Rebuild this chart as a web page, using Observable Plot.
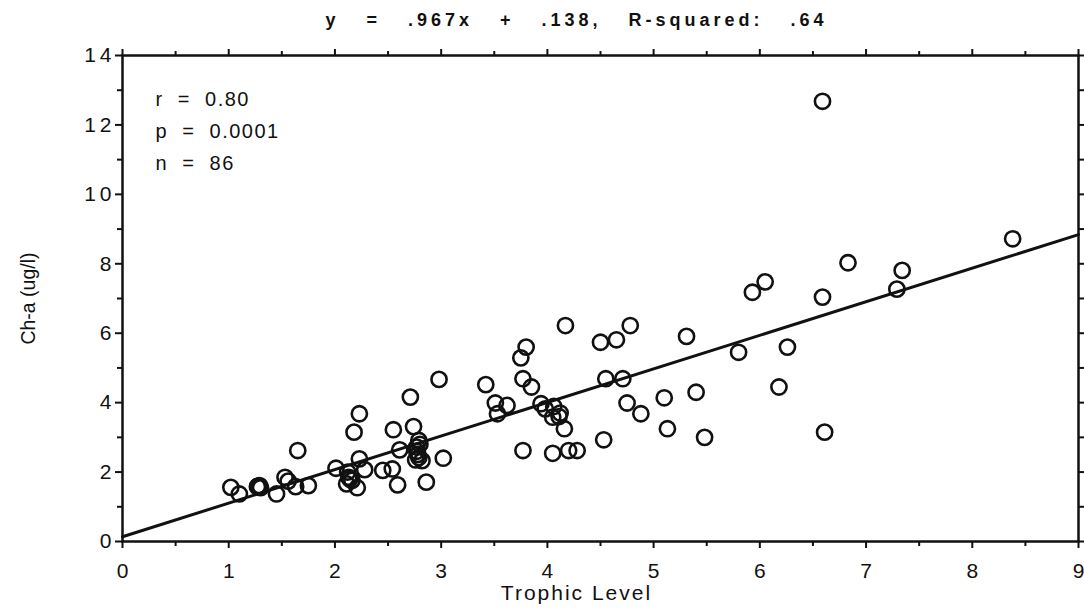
<!DOCTYPE html>
<html>
<head>
<meta charset="utf-8">
<script src="https://cdn.jsdelivr.net/npm/d3@7"></script>
<script src="https://cdn.jsdelivr.net/npm/@observablehq/plot@0.6"></script>
<style>
  html, body { margin: 0; padding: 0; background: #fff; }
  #chart svg { display: block; }
  #chart g[aria-label="y-axis tick label"] text { letter-spacing: 4px; }
</style>
</head>
<body>
<div id="chart"></div>
<script>
// Trophic level (x) and Ch-a in ug/l (y)
const trophic = [
  1.02, 1.10, 1.27, 1.29, 1.45, 1.53, 1.56, 1.63, 1.65, 1.75,
  2.01, 2.12, 2.11, 2.18, 2.23, 2.23, 2.16, 2.21, 2.28, 2.45,
  2.54, 2.55, 2.59, 2.61, 2.71, 2.74, 2.79, 2.77, 2.78, 2.76,
  2.82, 2.86, 3.02, 2.98, 3.42, 3.53, 3.51, 3.62, 3.77, 3.80,
  3.75, 3.77, 3.85, 3.94, 3.98, 4.06, 4.05, 4.11, 4.16, 4.05,
  4.20, 4.28, 4.17, 4.50, 4.65, 4.78, 4.55, 4.71, 4.75, 4.88,
  4.53, 5.10, 5.13, 5.40, 5.48, 5.31, 5.80, 5.93, 6.05, 6.26,
  6.18, 6.59, 6.59, 6.83, 7.34, 7.29, 8.38, 6.61,
  1.28, 2.13, 2.79, 2.77, 2.80, 4.12, 2.14, 1.30
];
const chla = [
  1.56, 1.37, 1.58, 1.61, 1.37, 1.85, 1.74, 1.58, 2.62, 1.61,
  2.11, 2.00, 1.66, 3.15, 3.68, 2.38, 1.76, 1.55, 2.07, 2.05,
  2.09, 3.22, 1.63, 2.64, 4.16, 3.31, 2.91, 2.72, 2.51, 2.35,
  2.33, 1.71, 2.40, 4.67, 4.52, 3.68, 3.99, 3.92, 2.62, 5.60,
  5.29, 4.69, 4.45, 3.97, 3.82, 3.89, 3.58, 3.60, 3.25, 2.54,
  2.62, 2.62, 6.22, 5.74, 5.81, 6.22, 4.69, 4.69, 3.99, 3.68,
  2.93, 4.14, 3.25, 4.30, 3.00, 5.91, 5.45, 7.18, 7.48, 5.60,
  4.45, 12.68, 7.04, 8.03, 7.81, 7.27, 8.72, 3.15,
  1.59, 1.85, 2.42, 2.60, 2.80, 3.70, 1.80, 1.55
];

// Stated regression
const slope = 0.967;
const intercept = 0.138;
const fitX = [0, 9];

// Axis ticks
const xTicks = [0, 1, 2, 3, 4, 5, 6, 7, 8, 9];
const xMinor = [0.5, 1.5, 2.5, 3.5, 4.5, 5.5, 6.5, 7.5, 8.5];
const yTicks = [0, 2, 4, 6, 8, 10, 12, 14];
const yMinor = [1, 3, 5, 7, 9, 11, 13];

const sp = "\u00a0";
const titleText = ["y", "=", ".967x", "+", ".138,", "R-squared:", ".64"].join(sp + sp + sp);
const statsText = ["r" + sp + sp + "=" + sp + sp + "0.80", "p" + sp + sp + "=" + sp + sp + "0.0001", "n" + sp + sp + "=" + sp + sp + "86"].join("\n");
const xLabel = "Trophic Level";
const yLabel = "Ch-a (ug/l)";

const points = trophic.map((x, i) => ({x, y: chla[i]}));
const fit = fitX.map(x => ({x, y: slope * x + intercept}));

const font = "'Liberation Sans', Arial, Helvetica, sans-serif";

const chart = Plot.plot({
  width: 1084,
  height: 611,
  marginLeft: 122,
  marginRight: 6,
  marginTop: 55,
  marginBottom: 70,
  x: {domain: [0, 9]},
  y: {domain: [0, 14]},
  style: {fontFamily: font, fontSize: "21px", color: "#111", background: "#fff", overflow: "visible"},
  marks: [
    Plot.axisX({ticks: xTicks, tickSize: 7, tickPadding: 15, strokeWidth: 2, tickFormat: d => String(d), label: null, fontSize: 21}),
    Plot.axisX({ticks: xMinor, tickSize: 5, strokeWidth: 2, tickFormat: () => "", label: null}),
    Plot.axisX({anchor: "top", ticks: xTicks, tickSize: 7, strokeWidth: 2, tickFormat: () => "", label: null}),
    Plot.axisX({anchor: "top", ticks: xMinor, tickSize: 5, strokeWidth: 2, tickFormat: () => "", label: null}),
    Plot.axisY({ticks: yTicks, tickSize: 7, tickPadding: 0, strokeWidth: 2, tickFormat: d => String(d), label: null, fontSize: 21}),
    Plot.axisY({ticks: yMinor, tickSize: 5, strokeWidth: 2, tickFormat: () => "", label: null}),
    Plot.axisY({anchor: "right", ticks: yTicks, tickSize: 7, strokeWidth: 2, tickFormat: () => "", label: null}),
    Plot.axisY({anchor: "right", ticks: yMinor, tickSize: 5, strokeWidth: 2, tickFormat: () => "", label: null}),
    Plot.frame({stroke: "#111", strokeWidth: 2.5}),
    Plot.line(fit, {x: "x", y: "y", stroke: "#111", strokeWidth: 3}),
    Plot.dot(points, {x: "x", y: "y", r: 7.6, stroke: "#111", strokeWidth: 2.6, fill: "none"}),
    Plot.text([titleText], {frameAnchor: "top", dx: -24, dy: -42, fontSize: 18, fontWeight: "bold", fill: "#111", className: "ttl"}),
    Plot.text([statsText], {frameAnchor: "top-left", dx: 33, dy: 28, lineAnchor: "top", lineHeight: 1.6, textAnchor: "start", fontSize: 20, fill: "#111", className: "stats"}),
    Plot.text([xLabel], {frameAnchor: "bottom", dx: -24, dy: 58, fontSize: 21, fill: "#111", className: "xlab"}),
    Plot.text([yLabel], {frameAnchor: "left", dx: -94, rotate: -90, textAnchor: "middle", fontSize: 19.5, fill: "#111"})
  ]
});

document.getElementById("chart").appendChild(chart);
const st = document.createElement("style");
st.textContent = `
  .ttl text { letter-spacing: 4px; }
  .stats text { letter-spacing: 1.5px; }
  .xlab text { letter-spacing: 2px; }
`;
document.head.appendChild(st);
</script>
</body>
</html>
